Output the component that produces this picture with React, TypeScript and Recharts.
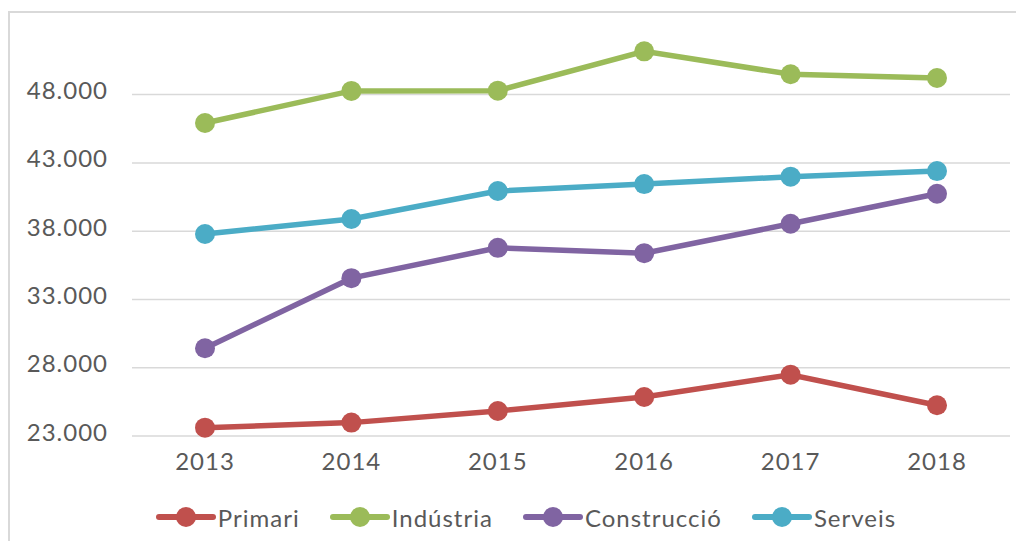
import { LineChart, Line, XAxis, YAxis, ReferenceLine, Legend } from "recharts";

const years = ["2013", "2014", "2015", "2016", "2017", "2018"];
const primari = [23610, 23980, 24830, 25860, 27490, 25250];
const industria = [45920, 48270, 48290, 51170, 49490, 49220];
const construccio = [29430, 34560, 36780, 36390, 38540, 40740];
const serveis = [37790, 38890, 40940, 41450, 41990, 42400];
const yTicks = [23000, 28000, 33000, 38000, 43000, 48000];

const data = years.map((year, i) => ({
  year,
  primari: primari[i],
  industria: industria[i],
  construccio: construccio[i],
  serveis: serveis[i],
}));

const series = [
  { key: "primari", name: "Primari", color: "#C0504D" },
  { key: "industria", name: "Indústria", color: "#9BBB59" },
  { key: "construccio", name: "Construcció", color: "#8064A2" },
  { key: "serveis", name: "Serveis", color: "#4BACC6" },
];

const font = "Lato, 'Open Sans', sans-serif";
const textColor = "#595959";

// 48000 -> "48.000"
const fmt = (v: number) => String(v).replace(/\B(?=(\d{3})+(?!\d))/g, ".");

// keep the original series order (recharts sorts the payload by name)
const LegendContent = () => (
  <div style={styles.legend}>
    {series.map((s) => (
      <div key={s.key} style={styles.legendItem}>
        <svg width={60} height={24} style={{ display: "block" }}>
          <line x1={3} y1={12} x2={57} y2={12} stroke={s.color} strokeWidth={6} strokeLinecap="round" />
          <circle cx={30} cy={12} r={10} fill={s.color} />
        </svg>
        <span style={{ marginLeft: 2 }}>{s.name}</span>
      </div>
    ))}
  </div>
);

export default function App() {
  return (
    <div style={styles.outer}>
      <div style={styles.frame} />
      <LineChart
        width={1008}
        height={533}
        data={data}
        margin={{ top: 32, right: 6, bottom: 4, left: 0 }}
        style={{ position: "absolute", left: 0, top: 0 }}
      >
        <XAxis
          dataKey="year"
          axisLine={false}
          tickLine={false}
          tickSize={0}
          tickMargin={17}
          height={61}
          padding={{ left: 73, right: 73 }}
          tick={{ fill: textColor, fontSize: 24, fontFamily: font, letterSpacing: 1 }}
        />
        <YAxis
          width={124}
          domain={[23000, 52000]}
          ticks={yTicks}
          interval={0}
          axisLine={false}
          tickLine={false}
          tickSize={0}
          tickMargin={24}
          tickFormatter={fmt}
          tick={{ fill: textColor, fontSize: 24, fontFamily: font, letterSpacing: 1, dy: -4 }}
        />
        {/* gridlines only at the labelled ticks, none at the top edge */}
        {yTicks.map((t) => (
          <ReferenceLine key={t} y={t} stroke="#D9D9D9" strokeWidth={1.5} />
        ))}
        <Legend verticalAlign="bottom" align="center" content={LegendContent} />
        {series.map((s) => (
          <Line
            key={s.key}
            dataKey={s.key}
            name={s.name}
            stroke={s.color}
            strokeWidth={5.5}
            dot={{ r: 10, fill: s.color, stroke: "none" }}
            activeDot={false}
            isAnimationActive={false}
          />
        ))}
      </LineChart>
    </div>
  );
}

const styles: Record<string, React.CSSProperties> = {
  outer: {
    position: "relative",
    width: 1008,
    height: 533,
    overflow: "hidden",
  },
  frame: {
    position: "absolute",
    left: 0,
    top: 3,
    width: 1100,
    height: 600,
    borderTop: "2px solid #D9D9D9",
    borderLeft: "2px solid #D9D9D9",
  },
  legend: {
    height: 40,
    display: "flex",
    justifyContent: "center",
    alignItems: "center",
    gap: 30,
    paddingLeft: 34,
    fontFamily: font,
    fontSize: 24,
    letterSpacing: 1,
    color: textColor,
  },
  legendItem: { display: "flex", alignItems: "center" },
};
